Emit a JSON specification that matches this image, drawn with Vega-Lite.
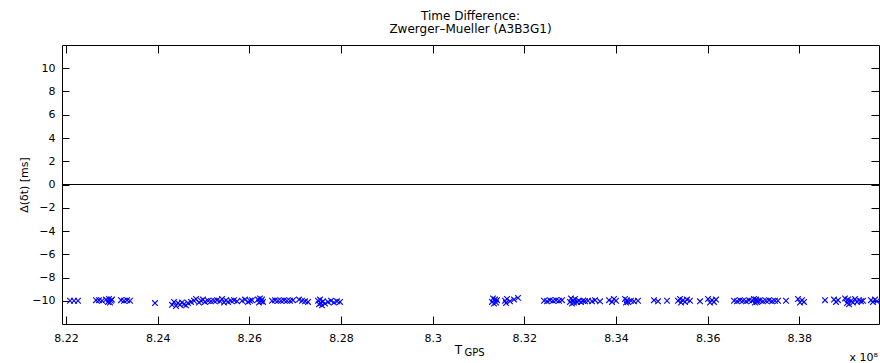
{
  "$schema": "https://vega.github.io/schema/vega-lite/v6.json",
  "width": 817,
  "height": 279,
  "autosize": {"type": "none"},
  "padding": {"left": 62, "top": 45, "right": 1, "bottom": 39},
  "background": "white",
  "config": {
    "font": "DejaVu Sans",
    "view": {"stroke": null},
    "axis": {"grid": false, "domainColor": "#000", "tickColor": "#000", "labelColor": "#000", "titleColor": "#000", "labelFont": "DejaVu Sans", "titleFont": "DejaVu Sans", "titleFontWeight": "normal", "labelFontSize": 11}
  },
  "title": {
    "text": ["Time Difference:", "Zwerger\u2013Mueller (A3B3G1)"],
    "font": "DejaVu Sans",
    "fontSize": 12,
    "fontWeight": "normal",
    "color": "#000",
    "lineHeight": 13,
    "anchor": "middle",
    "offset": 9
  },
  "data": {"values": [
    {"t": 822087300, "d": -10.0}, {"t": 822174500, "d": -10.0}, {"t": 822261800, "d": -10.0},
    {"t": 822654500, "d": -9.95}, {"t": 822720000, "d": -9.95}, {"t": 822785400, "d": -10.0},
    {"t": 822872700, "d": -9.9}, {"t": 822916400, "d": -10.1}, {"t": 822938200, "d": -9.85},
    {"t": 822960000, "d": -10.15}, {"t": 822981800, "d": -10.0}, {"t": 823003600, "d": -9.9},
    {"t": 823200000, "d": -9.95}, {"t": 823265400, "d": -10.0}, {"t": 823330900, "d": -9.95}, {"t": 823396400, "d": -10.0},
    {"t": 823941800, "d": -10.2},
    {"t": 824312700, "d": -10.35}, {"t": 824356300, "d": -10.1}, {"t": 824400000, "d": -10.45},
    {"t": 824443600, "d": -10.2}, {"t": 824487300, "d": -10.35}, {"t": 824530900, "d": -10.15},
    {"t": 824574500, "d": -10.3}, {"t": 824618200, "d": -10.4}, {"t": 824661800, "d": -10.2},
    {"t": 824727300, "d": -10.1}, {"t": 824792700, "d": -10.0}, {"t": 824836300, "d": -9.85},
    {"t": 824901800, "d": -10.15}, {"t": 824945400, "d": -10.0}, {"t": 824989100, "d": -9.9},
    {"t": 825032700, "d": -10.1}, {"t": 825098200, "d": -10.0}, {"t": 825163600, "d": -10.05},
    {"t": 825229100, "d": -10.0}, {"t": 825294500, "d": -9.95}, {"t": 825360000, "d": -10.05},
    {"t": 825403600, "d": -9.85}, {"t": 825447200, "d": -10.15}, {"t": 825490900, "d": -9.95},
    {"t": 825534500, "d": -10.1}, {"t": 825600000, "d": -10.0}, {"t": 825665400, "d": -9.95}, {"t": 825730900, "d": -10.05},
    {"t": 825840000, "d": -10.0}, {"t": 825905400, "d": -9.9}, {"t": 825970900, "d": -10.1},
    {"t": 826014500, "d": -10.0}, {"t": 826058100, "d": -9.95},
    {"t": 826189100, "d": -9.9}, {"t": 826210900, "d": -10.15}, {"t": 826232700, "d": -9.8},
    {"t": 826254500, "d": -10.05}, {"t": 826276300, "d": -9.9}, {"t": 826298100, "d": -10.1},
    {"t": 826494500, "d": -10.0}, {"t": 826560000, "d": -9.95}, {"t": 826625400, "d": -10.0},
    {"t": 826690900, "d": -10.0}, {"t": 826756300, "d": -9.95}, {"t": 826821800, "d": -10.0},
    {"t": 826887200, "d": -10.0}, {"t": 826952700, "d": -9.95},
    {"t": 827083600, "d": -9.9}, {"t": 827149000, "d": -10.0}, {"t": 827214500, "d": -10.05}, {"t": 827280000, "d": -10.1},
    {"t": 827498100, "d": -10.0}, {"t": 827520000, "d": -10.3}, {"t": 827541800, "d": -9.9},
    {"t": 827563600, "d": -10.2}, {"t": 827585400, "d": -10.4}, {"t": 827607200, "d": -10.05},
    {"t": 827650900, "d": -10.25}, {"t": 827716300, "d": -10.1}, {"t": 827781800, "d": -10.0},
    {"t": 827847200, "d": -10.15}, {"t": 827912700, "d": -10.05}, {"t": 827978100, "d": -10.1},
    {"t": 831294500, "d": -10.1}, {"t": 831316300, "d": -9.8}, {"t": 831338100, "d": -10.25},
    {"t": 831359900, "d": -9.9}, {"t": 831381700, "d": -10.15}, {"t": 831403600, "d": -9.95},
    {"t": 831578100, "d": -10.0}, {"t": 831599900, "d": -10.2}, {"t": 831621700, "d": -9.85},
    {"t": 831687200, "d": -10.05}, {"t": 831774500, "d": -9.9}, {"t": 831861700, "d": -9.75},
    {"t": 832429000, "d": -10.0}, {"t": 832494500, "d": -10.05}, {"t": 832559900, "d": -9.95},
    {"t": 832625400, "d": -10.0}, {"t": 832690800, "d": -9.95}, {"t": 832756300, "d": -10.0}, {"t": 832821700, "d": -9.95},
    {"t": 832996300, "d": -10.1}, {"t": 833018100, "d": -9.8}, {"t": 833039900, "d": -10.25},
    {"t": 833061700, "d": -9.95}, {"t": 833083500, "d": -10.15}, {"t": 833105400, "d": -9.85},
    {"t": 833149000, "d": -10.1}, {"t": 833192600, "d": -10.0}, {"t": 833236300, "d": -10.1},
    {"t": 833279900, "d": -10.0}, {"t": 833323500, "d": -10.05}, {"t": 833389000, "d": -10.0},
    {"t": 833476300, "d": -10.05}, {"t": 833541700, "d": -9.95},
    {"t": 833650800, "d": -10.05},
    {"t": 833847200, "d": -9.95}, {"t": 833912600, "d": -10.1}, {"t": 833956300, "d": -9.85}, {"t": 834000000, "d": -10.0},
    {"t": 834196300, "d": -9.85}, {"t": 834218100, "d": -10.15}, {"t": 834239900, "d": -9.95},
    {"t": 834261700, "d": -10.1}, {"t": 834327200, "d": -10.0}, {"t": 834392600, "d": -10.05}, {"t": 834479900, "d": -10.0},
    {"t": 834829000, "d": -9.95}, {"t": 834916300, "d": -10.05},
    {"t": 835112600, "d": -10.0},
    {"t": 835352600, "d": -10.0}, {"t": 835396300, "d": -9.85},
    {"t": 835418100, "d": -10.15}, {"t": 835461700, "d": -9.95}, {"t": 835505300, "d": -10.1},
    {"t": 835549000, "d": -9.9}, {"t": 835614400, "d": -10.0},
    {"t": 835832600, "d": -10.05},
    {"t": 836007200, "d": -9.85}, {"t": 836050800, "d": -10.15}, {"t": 836094400, "d": -9.95},
    {"t": 836138100, "d": -10.1}, {"t": 836181700, "d": -9.9},
    {"t": 836574400, "d": -10.0}, {"t": 836639900, "d": -10.05}, {"t": 836705300, "d": -9.95},
    {"t": 836770800, "d": -10.0}, {"t": 836836200, "d": -10.05}, {"t": 836901700, "d": -9.95},
    {"t": 836967100, "d": -10.0}, {"t": 837010800, "d": -9.85}, {"t": 837032600, "d": -10.15},
    {"t": 837054400, "d": -9.9}, {"t": 837076200, "d": -10.1}, {"t": 837098100, "d": -10.0},
    {"t": 837141700, "d": -9.95}, {"t": 837207100, "d": -10.05}, {"t": 837272600, "d": -10.0},
    {"t": 837338100, "d": -9.95}, {"t": 837403500, "d": -10.05}, {"t": 837469000, "d": -10.0}, {"t": 837534400, "d": -10.0},
    {"t": 837709000, "d": -10.0},
    {"t": 837970800, "d": -9.85}, {"t": 838014400, "d": -10.15}, {"t": 838058000, "d": -9.95}, {"t": 838101700, "d": -10.1},
    {"t": 838559900, "d": -9.95},
    {"t": 838756200, "d": -9.9}, {"t": 838799900, "d": -10.1}, {"t": 838843500, "d": -9.95},
    {"t": 838996200, "d": -9.8}, {"t": 839039900, "d": -10.2}, {"t": 839061700, "d": -9.9},
    {"t": 839083500, "d": -10.3}, {"t": 839127100, "d": -10.0}, {"t": 839170800, "d": -10.15},
    {"t": 839214400, "d": -9.85}, {"t": 839258000, "d": -10.1}, {"t": 839301700, "d": -9.95},
    {"t": 839345300, "d": -10.05}, {"t": 839388900, "d": -10.0},
    {"t": 839563500, "d": -9.95}, {"t": 839607100, "d": -10.1}, {"t": 839650800, "d": -9.9}, {"t": 839694400, "d": -10.05}
  ]},
  "layer": [
    {
      "mark": {"type": "point", "shape": "M-1,-1L1,1M1,-1L-1,1", "filled": false, "stroke": "#0000ff", "strokeWidth": 1.1, "size": 32, "opacity": 1},
      "encoding": {
        "x": {
          "field": "t", "type": "quantitative",
          "scale": {"domain": [821912700, 839738000], "nice": false, "zero": false},
          "axis": {
            "orient": "bottom",
            "values": [822000000, 824000000, 826000000, 828000000, 830000000, 832000000, 834000000, 836000000, 838000000],
            "labelExpr": "format(datum.value / 1e8, '.2~f')",
            "tickSize": -8, "labelPadding": 16, "labelBaseline": "top", "labelFlush": false,
            "title": "T", "titleFontSize": 12, "titleX": 396, "titleY": 29, "titleBaseline": "alphabetic", "titleAlign": "center"
          }
        },
        "y": {
          "field": "d", "type": "quantitative",
          "scale": {"domain": [-12, 12], "nice": false},
          "axis": {
            "orient": "left",
            "values": [-10, -8, -6, -4, -2, 0, 2, 4, 6, 8, 10],
            "tickSize": -7, "labelPadding": 14,
            "title": "\u0394(\u03b4t) [ms]", "titleFontSize": 11, "titlePadding": 2
          }
        }
      }
    },
    {
      "mark": {"type": "rule", "color": "#000", "strokeWidth": 1},
      "encoding": {
        "x": {
          "datum": 821912700, "type": "quantitative",
          "scale": {"domain": [821912700, 839738000], "nice": false, "zero": false},
          "axis": {
            "orient": "top",
            "values": [822000000, 824000000, 826000000, 828000000, 830000000, 832000000, 834000000, 836000000, 838000000],
            "labels": false, "tickSize": -8,
            "title": "GPS", "titleFontSize": 10, "titleX": 412, "titleY": 310, "titleBaseline": "alphabetic", "titleAlign": "center"
          }
        },
        "x2": {"datum": 839738000},
        "y": {
          "datum": 0, "type": "quantitative",
          "scale": {"domain": [-12, 12], "nice": false},
          "axis": {
            "orient": "right",
            "values": [-10, -8, -6, -4, -2, 0, 2, 4, 6, 8, 10],
            "labels": false, "tickSize": -8,
            "title": "x 10\u2078", "titleFontSize": 11, "titleAngle": 0, "titleX": -30, "titleY": 315, "titleAlign": "left", "titleBaseline": "alphabetic"
          }
        }
      }
    }
  ],
  "resolve": {"axis": {"x": "independent", "y": "independent"}}
}
